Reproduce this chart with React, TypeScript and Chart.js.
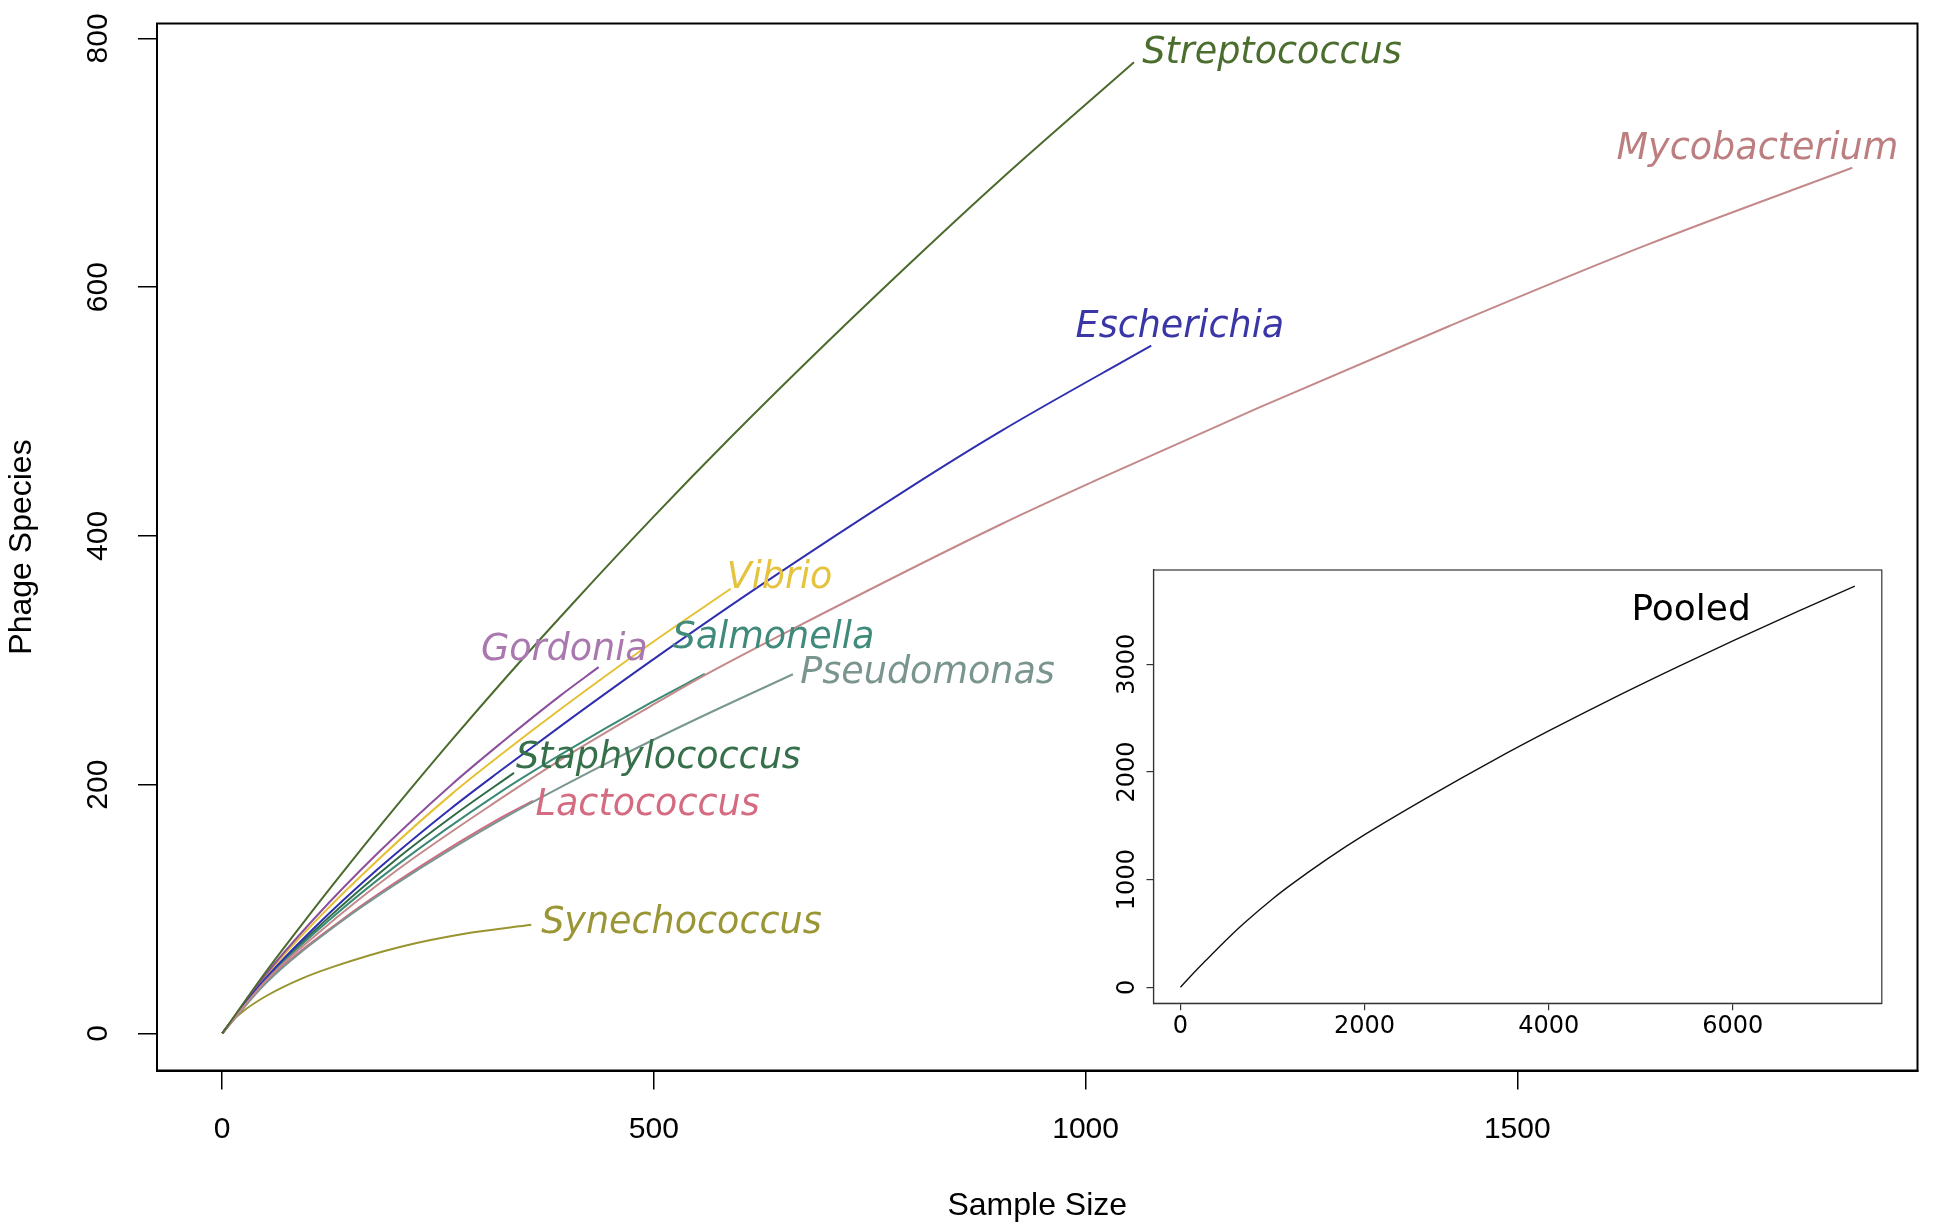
import React, { useEffect, useRef } from "react";
import { Chart, registerables } from "chart.js";

Chart.register(...registerables);

// ---------- tick labels ----------
const MAIN_X_TICKS = [0, 500, 1000, 1500];
const MAIN_Y_TICKS = [0, 200, 400, 600, 800];
const INSET_X_TICKS = [0, 2000, 4000, 6000];
const INSET_Y_TICKS = [0, 1000, 2000, 3000];

// ---------- series values (sample size, phage species) ----------
const streptococcusX = [0, 50, 100, 150, 200, 265, 330, 406, 500, 589, 700, 813, 901, 1056];
const streptococcusY = [0, 49, 94.5, 138.5, 181.3, 235.2, 287.2, 345.7, 415.7, 479.3, 555.3, 629.9, 686.2, 780.8];

const mycobacteriumX = [0, 50, 110, 200, 323, 392, 496, 560, 670, 901, 1013, 1200, 1422, 1650, 1888];
const mycobacteriumY = [0, 42, 80, 130, 189, 220, 263, 288.5, 328.5, 409, 445, 503, 569, 634, 696];

const escherichiaX = [0, 50, 110, 180, 265, 323, 392, 496, 620, 800, 901, 1076];
const escherichiaY = [0, 44, 87.2, 132, 180.9, 211.6, 247.1, 299.1, 358.6, 440.5, 483.9, 553];

const gordoniaX = [0, 50, 107, 180, 265, 323, 392, 436];
const gordoniaY = [0, 47, 92.6, 144.8, 199.6, 233.5, 271.8, 294.5];

const salmonellaX = [0, 50, 125, 200, 323, 392, 496, 559];
const salmonellaY = [0, 43, 91.75, 134.1, 194.4, 224.1, 265.7, 289];

const pseudomonasX = [0, 50, 140, 230, 323, 453, 550, 661];
const pseudomonasY = [0, 40, 91, 133, 172, 220, 253, 288.8];

const staphylococcusX = [0, 50, 120, 200, 270, 338];
const staphylococcusY = [0, 43.5, 91.1, 139.1, 176.2, 209.5];

const lactococcusX = [0, 50, 140, 230, 323, 360];
const lactococcusY = [0, 41, 92, 134.5, 173.5, 187];

const vibrioX = [0, 50, 112, 180, 265, 323, 392, 496, 589];
const vibrioY = [0, 46, 93.1, 139.3, 192, 224.2, 260.8, 313.3, 357.5];

const synechococcusX = [0, 10, 25, 53, 90, 130, 207, 284, 358];
const synechococcusY = [0, 9, 18.3, 30.9, 43.5, 53.9, 69.7, 80.5, 87.3];

const pooledX = [0, 140, 281, 500, 690, 1000, 1202, 1600, 2005, 2737, 3400, 4005, 4783, 5400, 6000, 6700, 7325];
const pooledY = [0, 130, 254, 442, 594, 820, 953, 1195, 1420, 1790, 2108, 2383, 2721, 2977, 3217, 3490, 3726];

// ---------- names, colours, label anchors (data units) ----------
const SPECIES = [
  "Streptococcus", "Mycobacterium", "Escherichia", "Gordonia", "Salmonella",
  "Pseudomonas", "Staphylococcus", "Lactococcus", "Vibrio", "Synechococcus",
];
const SERIES_X = [
  streptococcusX, mycobacteriumX, escherichiaX, gordoniaX, salmonellaX,
  pseudomonasX, staphylococcusX, lactococcusX, vibrioX, synechococcusX,
];
const SERIES_Y = [
  streptococcusY, mycobacteriumY, escherichiaY, gordoniaY, salmonellaY,
  pseudomonasY, staphylococcusY, lactococcusY, vibrioY, synechococcusY,
];
const LINE_COLORS = [
  "#4b6b2d", "#c4898a", "#2f2fb0", "#8c4f9f", "#3b8a76",
  "#799690", "#2f6b45", "#d26a80", "#e5c032", "#989530",
];
const LABEL_COLORS = [
  "#4b6e2f", "#bd7e80", "#3a36a6", "#a978ae", "#3f8a7a",
  "#7a958f", "#36704b", "#d46b80", "#e6c33f", "#9a9635",
];
const LABEL_X = [1065.6, 1615, 988.4, 299.7, 521.5, 669.6, 340.2, 363, 584.3, 369.4];
const LABEL_Y = [780, 703, 559.8, 300.3, 309.7, 281.6, 213.2, 175.5, 358, 80.5];

const POOLED_LABEL = "Pooled";
const POOLED_LABEL_X = 4898;
const POOLED_LABEL_Y = 3412;

const MAIN_FONT = "'Liberation Sans', Arial, Helvetica, sans-serif";
const INSET_FONT = "'DejaVu Sans', sans-serif";

const W = 1936;
const H = 1226;

function boxPlugin(id: string, color: string, width: number) {
  return {
    id,
    afterDraw(chart: any) {
      const { ctx, chartArea: a } = chart;
      ctx.save();
      ctx.strokeStyle = color;
      ctx.lineWidth = width;
      ctx.strokeRect(a.left, a.top, a.right - a.left, a.bottom - a.top);
      ctx.restore();
    },
  };
}

const speciesLabelPlugin = {
  id: "speciesLabels",
  afterDatasetsDraw(chart: any) {
    const { ctx, scales } = chart;
    ctx.save();
    ctx.font = 'italic 36.5px "DejaVu Sans"';
    ctx.textAlign = "left";
    ctx.textBaseline = "alphabetic";
    SPECIES.forEach((name, i) => {
      ctx.fillStyle = LABEL_COLORS[i];
      ctx.fillText(name, scales.x.getPixelForValue(LABEL_X[i]), scales.y.getPixelForValue(LABEL_Y[i]));
    });
    ctx.restore();
  },
};

const pooledLabelPlugin = {
  id: "pooledLabel",
  afterDatasetsDraw(chart: any) {
    const { ctx, scales } = chart;
    ctx.save();
    ctx.font = '36px "DejaVu Sans"';
    ctx.textAlign = "left";
    ctx.textBaseline = "alphabetic";
    ctx.fillStyle = "#000";
    ctx.fillText(POOLED_LABEL, scales.x.getPixelForValue(POOLED_LABEL_X), scales.y.getPixelForValue(POOLED_LABEL_Y));
    ctx.restore();
  },
};

function fixX(h: number) {
  return (s: any) => {
    s.height = h;
    s.paddingLeft = 0;
    s.paddingRight = 0;
  };
}
function fixY(w: number) {
  return (s: any) => {
    s.width = w;
    s.paddingTop = 0;
    s.paddingBottom = 0;
  };
}

export default function App() {
  const mainRef = useRef<HTMLCanvasElement>(null);
  const insetRef = useRef<HTMLCanvasElement>(null);

  useEffect(() => {
    const mainDatasets = SPECIES.map((name, i) => ({
      label: name,
      data: SERIES_X[i].map((x, j) => ({ x, y: SERIES_Y[i][j] })),
      borderColor: LINE_COLORS[i],
      backgroundColor: LINE_COLORS[i],
      borderWidth: 2,
      pointRadius: 0,
      fill: false,
      cubicInterpolationMode: "monotone" as const,
    }));

    const main = new Chart(mainRef.current!, {
      type: "line",
      data: { datasets: mainDatasets },
      options: {
        responsive: false,
        animation: false,
        events: [],
        layout: { padding: { left: 0, top: 23.5, right: 18.5, bottom: 0 } },
        plugins: { legend: { display: false }, tooltip: { enabled: false } },
        scales: {
          x: {
            type: "linear",
            min: -75.5,
            max: 1963.5,
            afterBuildTicks: (s: any) => {
              s.ticks = MAIN_X_TICKS.map((v) => ({ value: v }));
            },
            afterFit: fixX(155.5),
            grid: { display: true, drawOnChartArea: false, drawTicks: true, tickLength: 19, color: "#000", lineWidth: 1.5 },
            border: { display: true, color: "#000", width: 2 },
            ticks: {
              autoSkip: false,
              maxRotation: 0,
              minRotation: 0,
              padding: 22.5,
              color: "#000",
              font: { family: MAIN_FONT, size: 30 },
              callback: (v: any) => String(v),
            },
            title: {
              display: true,
              text: "Sample Size",
              color: "#000",
              font: { family: MAIN_FONT, size: 32 },
              padding: { top: 0, bottom: 0.8 },
            },
          },
          y: {
            type: "linear",
            min: -29.8,
            max: 812,
            afterBuildTicks: (s: any) => {
              s.ticks = MAIN_Y_TICKS.map((v) => ({ value: v }));
            },
            afterFit: fixY(157),
            grid: { display: true, drawOnChartArea: false, drawTicks: true, tickLength: 19, color: "#000", lineWidth: 1.5 },
            border: { display: true, color: "#000", width: 2 },
            ticks: {
              autoSkip: false,
              minRotation: 90,
              maxRotation: 90,
              crossAlign: "center",
              padding: 14,
              color: "#000",
              font: { family: MAIN_FONT, size: 30 },
              callback: (v: any) => String(v),
            },
            title: {
              display: true,
              text: "Phage Species",
              color: "#000",
              font: { family: MAIN_FONT, size: 32 },
              padding: { top: 2.8, bottom: 0 },
            },
          },
        },
      },
      plugins: [speciesLabelPlugin, boxPlugin("mainBox", "#000", 2)],
    } as any);

    const inset = new Chart(insetRef.current!, {
      type: "line",
      data: {
        datasets: [
          {
            label: "Pooled",
            data: pooledX.map((x, j) => ({ x, y: pooledY[j] })),
            borderColor: "#111",
            borderWidth: 1.4,
            pointRadius: 0,
            fill: false,
            cubicInterpolationMode: "monotone",
          },
        ],
      },
      options: {
        responsive: false,
        animation: false,
        events: [],
        layout: { padding: { left: 1093.5, top: 570, right: 54.2, bottom: 162.7 } },
        plugins: { legend: { display: false }, tooltip: { enabled: false } },
        scales: {
          x: {
            type: "linear",
            min: -293,
            max: 7618,
            afterBuildTicks: (s: any) => {
              s.ticks = INSET_X_TICKS.map((v) => ({ value: v }));
            },
            afterFit: fixX(60),
            grid: { display: true, drawOnChartArea: false, drawTicks: true, tickLength: 7, color: "#333", lineWidth: 1.2 },
            border: { display: true, color: "#333", width: 1.2 },
            ticks: {
              autoSkip: false,
              maxRotation: 0,
              minRotation: 0,
              padding: 2,
              color: "#000",
              font: { family: INSET_FONT, size: 24 },
              callback: (v: any) => String(v),
            },
          },
          y: {
            type: "linear",
            min: -149,
            max: 3876,
            afterBuildTicks: (s: any) => {
              s.ticks = INSET_Y_TICKS.map((v) => ({ value: v }));
            },
            afterFit: fixY(60),
            grid: { display: true, drawOnChartArea: false, drawTicks: true, tickLength: 7, color: "#333", lineWidth: 1.2 },
            border: { display: true, color: "#333", width: 1.2 },
            ticks: {
              autoSkip: false,
              minRotation: 90,
              maxRotation: 90,
              crossAlign: "center",
              padding: -12,
              color: "#000",
              font: { family: INSET_FONT, size: 24 },
              callback: (v: any) => String(v),
            },
          },
        },
      },
      plugins: [pooledLabelPlugin, boxPlugin("insetBox", "#333", 1.2)],
    } as any);

    return () => {
      main.destroy();
      inset.destroy();
    };
  }, []);

  return (
    <div style={{ position: "fixed", left: 0, top: 0, width: W, height: H, background: "#fff", overflow: "hidden" }}>
      <canvas ref={mainRef} width={W} height={H} style={{ position: "absolute", left: 0, top: 0, width: W, height: H }} />
      <canvas ref={insetRef} width={W} height={H} style={{ position: "absolute", left: 0, top: 0, width: W, height: H }} />
    </div>
  );
}
